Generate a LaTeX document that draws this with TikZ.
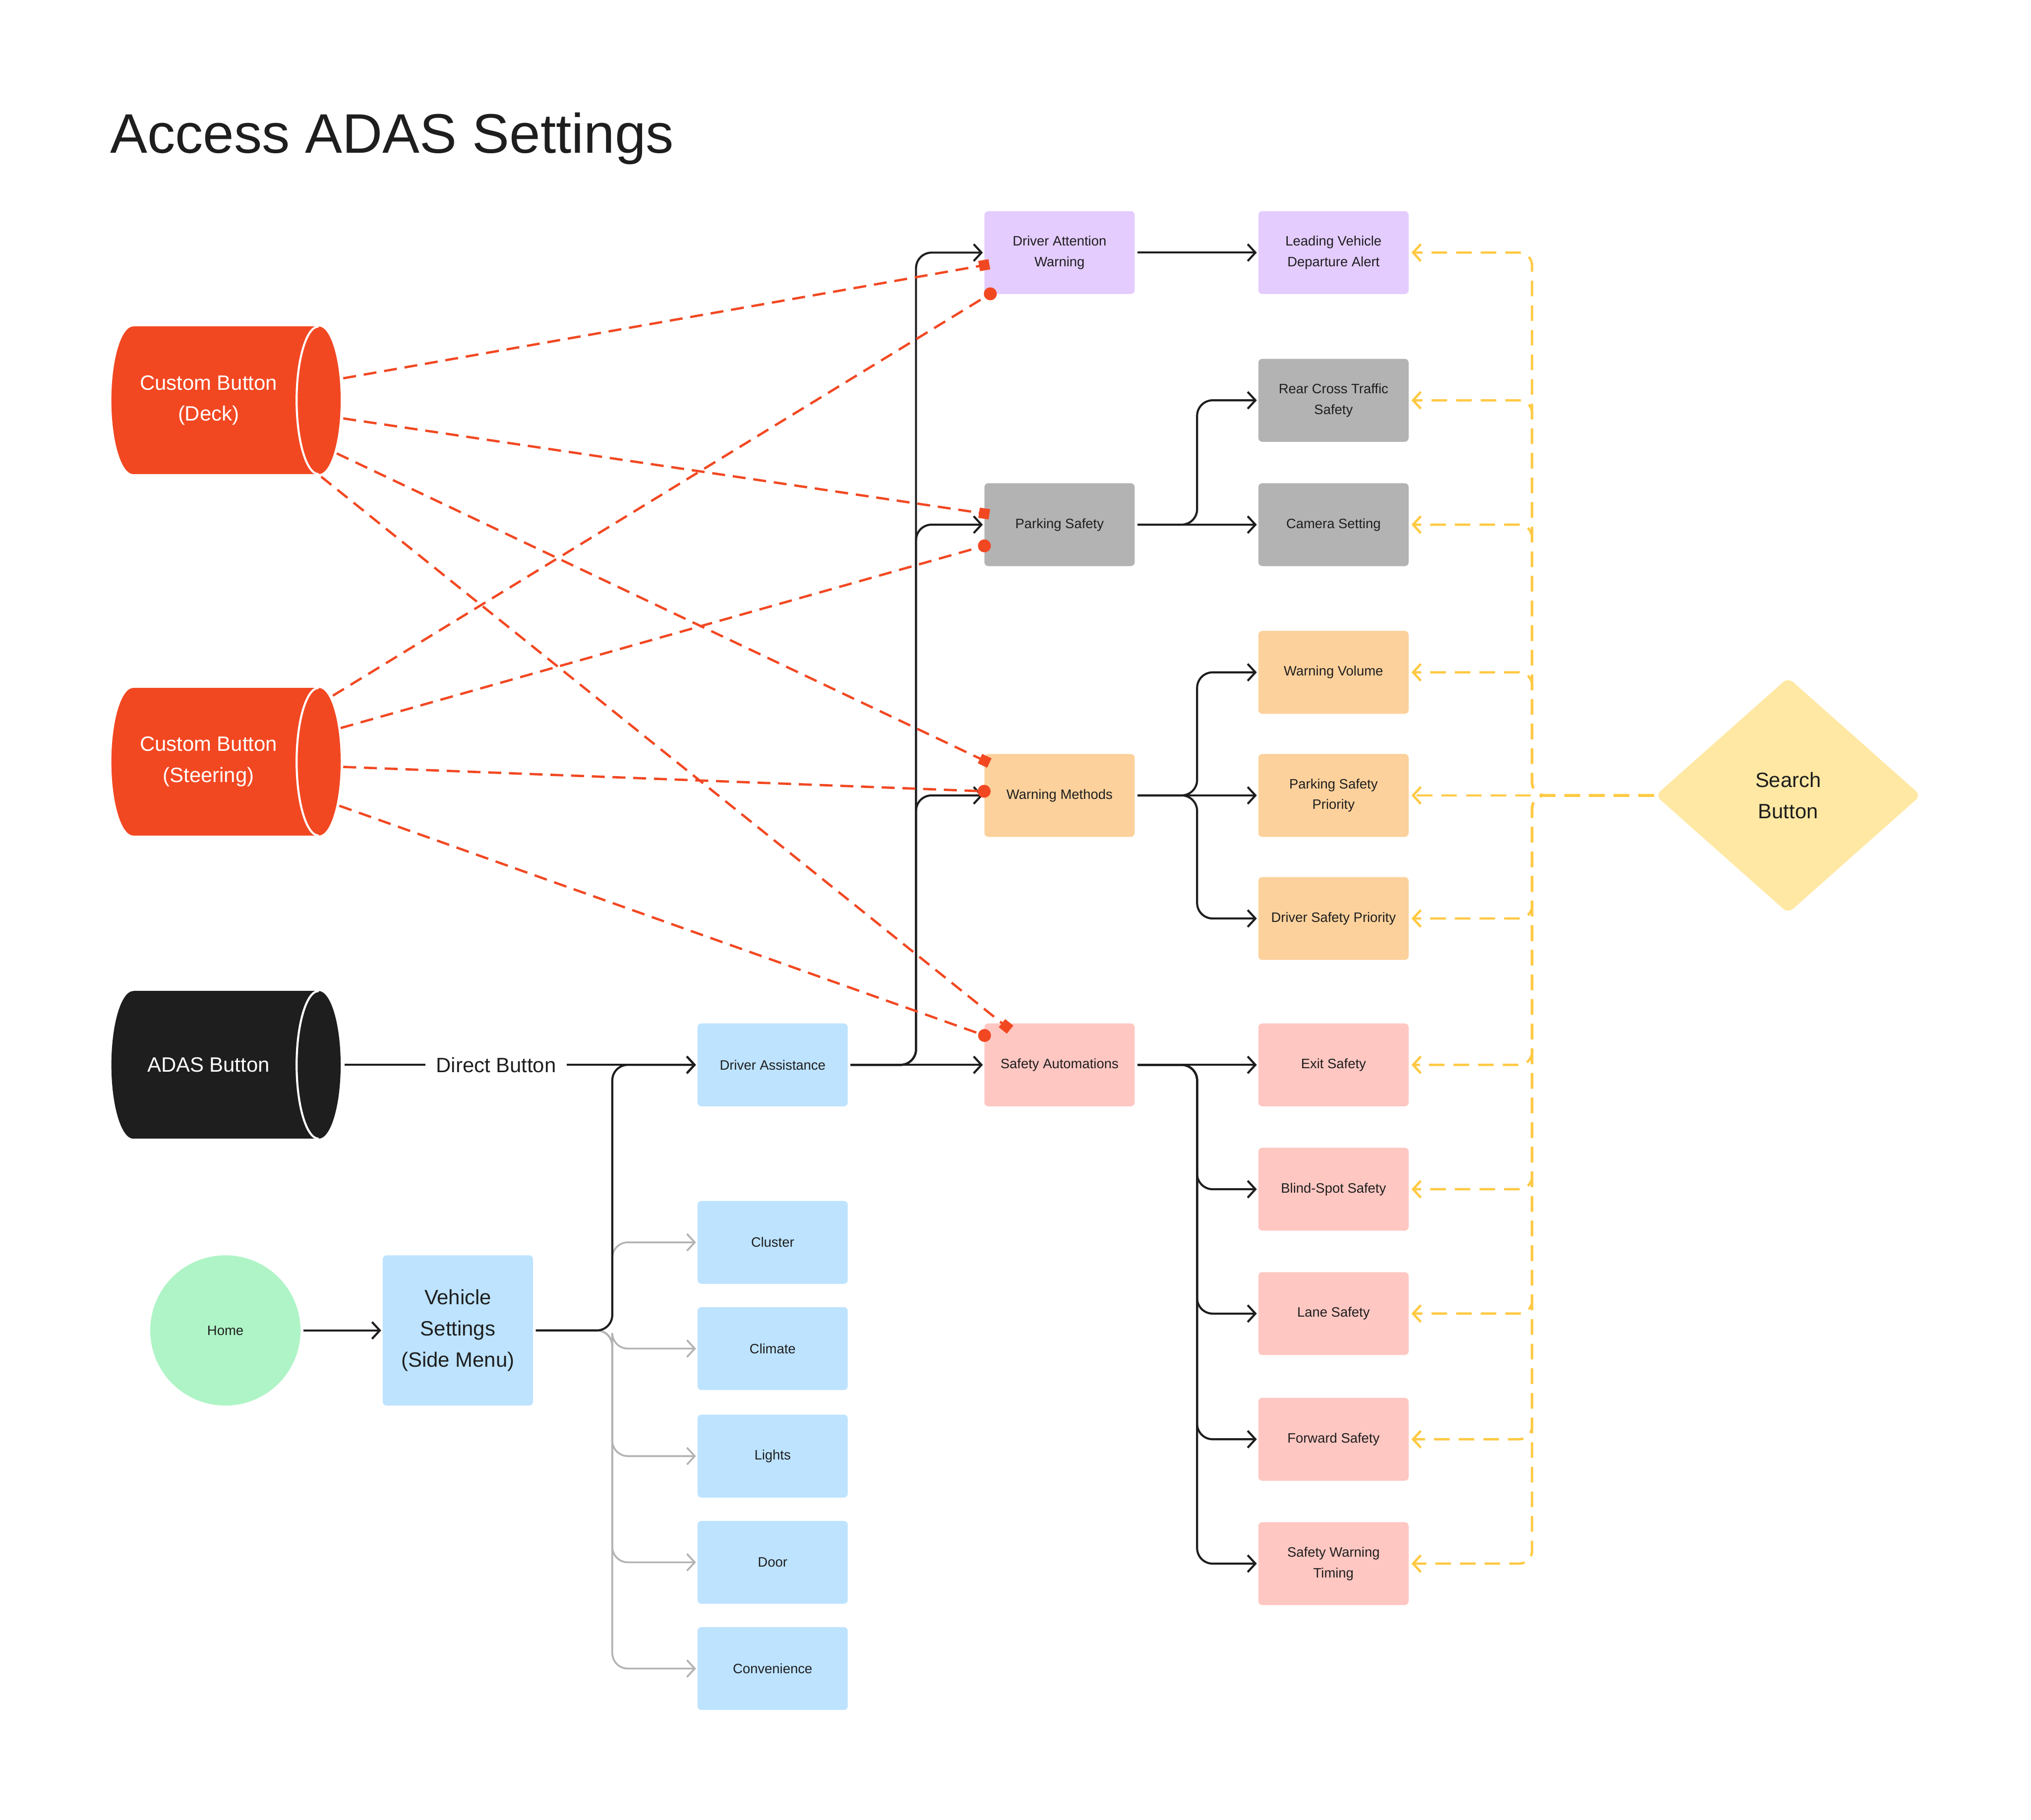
\documentclass[tikz,border=0pt]{standalone}
\usepackage{fontspec}
\setmainfont{Liberation Sans}
\usetikzlibrary{arrows.meta,shapes.geometric,calc}
\definecolor{cRed}{HTML}{F24822}
\definecolor{cBlk}{HTML}{1E1E1E}
\definecolor{cPur}{HTML}{E4CCFF}
\definecolor{cGry}{HTML}{B3B3B3}
\definecolor{cOrg}{HTML}{FCD19C}
\definecolor{cPnk}{HTML}{FFC7C2}
\definecolor{cBlu}{HTML}{BDE3FF}
\definecolor{cGrn}{HTML}{AFF4C6}
\definecolor{cYlw}{HTML}{FFE8A3}
\definecolor{cYln}{HTML}{FFC943}
\definecolor{cTxt}{HTML}{1E1E1E}
\newcommand\cylshape[4]{%
  \fill[#4] (#1+17,#2) rectangle (#3-17,#2+114);
  \fill[#4] (#1+17,#2+57) ellipse [x radius=17, y radius=57];
  \fill[#4] (#3-17,#2+57) ellipse [x radius=17, y radius=57];
  \draw[white,line width=1.6pt] (#3-17,#2+114) arc[start angle=90,end angle=270,x radius=17,y radius=57];
}
\begin{document}
\begin{tikzpicture}[x=1pt,y=-1pt,
  box/.style={rectangle, rounded corners=3pt, minimum width=116pt, minimum height=64pt, inner sep=0pt, align=center, text=cTxt, font=\fontsize{10.5}{16}\selectfont},
  cyllabel/.style={text=white, align=center, inner sep=0pt, font=\fontsize{16}{24}\selectfont},
  tip/.style={-{Straight Barb[length=6pt,width=13pt]}},
  conn/.style={draw=cBlk, line width=1.6pt, rounded corners=12pt, shorten <=2pt, shorten >=1pt, tip},
  gconn/.style={draw=cGry, line width=1.4pt, rounded corners=12pt, shorten <=2pt, shorten >=1pt, tip},
  yconn/.style={draw=cYln, line width=1.8pt, rounded corners=10pt, dash pattern=on 12pt off 7pt, shorten <=1pt, shorten >=2pt, tip},
  rconn/.style={draw=cRed, line width=1.8pt, dash pattern=on 10pt off 6pt},
  rsq/.style={rconn, -{Square[length=8pt,width=8pt]}},
  rci/.style={rconn, -{Circle[length=10pt]}}
]
\useasboundingbox (0,0) rectangle (1568,1404.6);

% title
\node[anchor=base west, inner sep=0pt, text=cTxt, font=\fontsize{43}{50}\selectfont] (title) at (85,118) {Access ADAS Settings};

% cylinders
\cylshape{86}{252}{263}{cRed}
\cylshape{86}{531}{263}{cRed}
\cylshape{86}{765}{263}{cBlk}
\node[cyllabel] (deck) at (161,309) {Custom Button\\(Deck)};
\node[cyllabel] (steer) at (161,588) {Custom Button\\(Steering)};
\node[cyllabel] (adas) at (161,822) {ADAS Button};

% home & vehicle settings
\node[circle, fill=cGrn, minimum size=116pt, inner sep=0pt, text=cTxt, font=\fontsize{10.5}{12}\selectfont] (home) at (174,1027) {Home};
\node[box, fill=cBlu, minimum height=116pt, font=\fontsize{16}{24}\selectfont] (vs) at (353.5,1027) {Vehicle\\Settings\\(Side Menu)};

% column 1
\node[box, fill=cBlu] (da) at (596.5,822) {Driver Assistance};
\node[box, fill=cBlu] (clu) at (596.5,959) {Cluster};
\node[box, fill=cBlu] (cli) at (596.5,1041) {Climate};
\node[box, fill=cBlu] (lig) at (596.5,1124) {Lights};
\node[box, fill=cBlu] (door) at (596.5,1206) {Door};
\node[box, fill=cBlu] (conv) at (596.5,1288) {Convenience};

% column 2
\node[box, fill=cPur] (daw) at (818,195) {Driver Attention\\Warning};
\node[box, fill=cGry] (ps) at (818,405) {Parking Safety};
\node[box, fill=cOrg] (wm) at (818,614) {Warning Methods};
\node[box, fill=cPnk] (sa) at (818,822) {Safety Automations};

% column 3
\node[box, fill=cPur] (lvda) at (1029.5,195) {Leading Vehicle\\Departure Alert};
\node[box, fill=cGry] (rct) at (1029.5,309) {Rear Cross Traffic\\Safety};
\node[box, fill=cGry] (cs) at (1029.5,405) {Camera Setting};
\node[box, fill=cOrg] (wv) at (1029.5,519) {Warning Volume};
\node[box, fill=cOrg] (psp) at (1029.5,614) {Parking Safety\\Priority};
\node[box, fill=cOrg] (dsp) at (1029.5,709) {Driver Safety Priority};
\node[box, fill=cPnk] (es) at (1029.5,822) {Exit Safety};
\node[box, fill=cPnk] (bss) at (1029.5,918) {Blind-Spot Safety};
\node[box, fill=cPnk] (ls) at (1029.5,1014) {Lane Safety};
\node[box, fill=cPnk] (fs) at (1029.5,1111) {Forward Safety};
\node[box, fill=cPnk] (swt) at (1029.5,1207) {Safety Warning\\Timing};

% search
\node[diamond, fill=cYlw, minimum width=205pt, minimum height=182pt, inner sep=0pt, rounded corners=5pt, align=center, text=cTxt, font=\fontsize{16}{24}\selectfont] (search) at (1380.5,614) {Search\\Button};

% direct button label
\node[inner sep=0pt, inner xsep=8pt, text=cTxt, font=\fontsize{16}{20}\selectfont] (direct) at (383,822) {Direct Button};

% grey connectors
\foreach \t in {clu,cli,lig,door,conv}
  \draw[gconn] (vs.east) -- ++(61,0) |- (\t.west);

% black connectors
\draw[draw=cBlk, line width=1.6pt] ($(adas)+(105,0)$) -- (direct.west);
\draw[conn, shorten <=0pt] (direct.east) -- (da.west);
\draw[conn] (home.east) -- (vs.west);
\draw[conn] (vs.east) -- ++(61,0) |- (da.west);
\foreach \t in {daw,ps,wm}
  \draw[conn] (da.east) -- ++(52.5,0) |- (\t.west);
\draw[conn] (da.east) -- (sa.west);
\draw[conn] (daw.east) -- (lvda.west);
\draw[conn] (ps.east) -- ++(48,0) |- (rct.west);
\draw[conn] (ps.east) -- (cs.west);
\foreach \t in {wv,dsp}
  \draw[conn] (wm.east) -- ++(48,0) |- (\t.west);
\draw[conn] (wm.east) -- (psp.west);
\draw[conn] (sa.east) -- (es.west);
\foreach \t in {bss,ls,fs,swt}
  \draw[conn] (sa.east) -- ++(48,0) |- (\t.west);

% red dashed connectors
\draw[rsq] ($(deck)+(104,-17)$) -- ($(daw.west)+(4,9)$);
\draw[rsq] ($(deck)+(104,14)$) -- ($(ps.west)+(4,-8)$);
\draw[rsq] ($(deck)+(99,41)$) -- ($(wm.west)+(4,-25)$);
\draw[rsq] ($(deck)+(87,59)$) -- ($(sa.north west)+(20,5)$);
\draw[rci] ($(steer)+(96,-51)$) -- ($(daw.south west)+(9,-3)$);
\draw[rci] ($(steer)+(102,-26)$) -- ($(ps.west)+(5,15)$);
\draw[rci] ($(steer)+(104,4)$) -- ($(wm.west)+(5,-3)$);
\draw[rci] ($(steer)+(101,34)$) -- ($(sa.west)+(5,-21)$);

% yellow dashed connectors
\foreach \t in {lvda,rct,cs,wv,dsp,es,bss,ls,fs,swt}
  \draw[yconn] (search.west) -- ++(-95,0) |- (\t.east);
\draw[yconn] (search.west) -- (psp.east);
\end{tikzpicture}
\end{document}
